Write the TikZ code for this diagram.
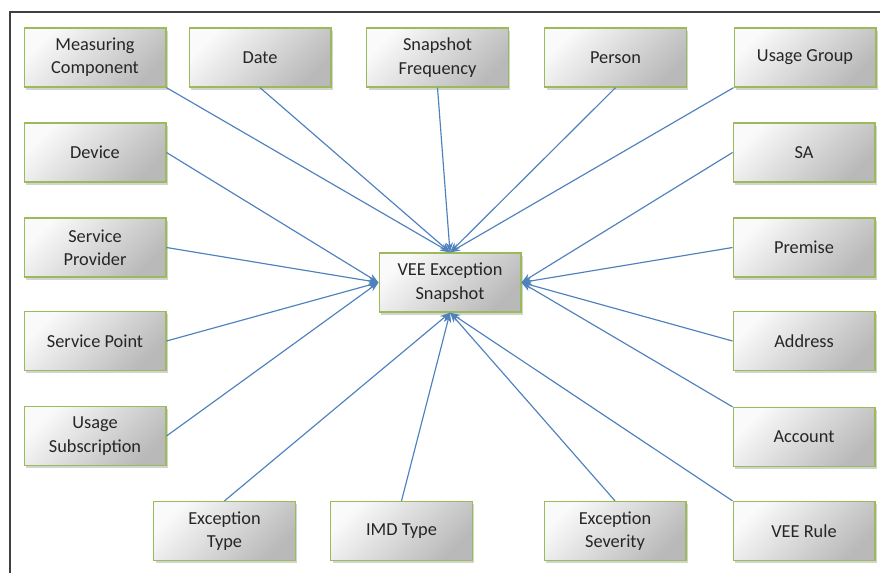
\documentclass[tikz,border=0pt]{standalone}
\usepackage{fontspec}
\setmainfont{Carlito}
\usetikzlibrary{arrows.meta, shadows}

\definecolor{boxgreen}{HTML}{9BBB59}
\definecolor{linkblue}{HTML}{4F81BD}
\definecolor{txtgray}{HTML}{262626}

\tikzset{
  entity/.style={draw=boxgreen, line width=0.8pt, top color=gray!4, bottom color=gray!55,
    shading angle=45, minimum width=85pt, minimum height=35.4pt, inner sep=0pt,
    align=center, text=txtgray, font=\fontsize{11}{14}\selectfont,
    drop shadow={shadow xshift=1.2pt, shadow yshift=-1.5pt, opacity=0.35}},
  link/.style={draw=linkblue, line width=0.7pt, -{Stealth[length=6pt, width=4.5pt]}}
}

\begin{document}
\begin{tikzpicture}[x=0.6pt, y=-0.6pt]
\useasboundingbox (0,0) rectangle (880,573);

% frame
\draw [line width=1pt, black!75] (880,12) -- (10,12) -- (10,573);

%%%  nodes

% centre node
\node [entity] (snap) at (450,282.5) {VEE Exception\\Snapshot};

% top row nodes
\node [entity] (mc) at (95,57.5) {Measuring\\Component};
\node [entity] (date) at (260,57.5) {Date};
\node [entity] (freq) at (437.5,57.5) {Snapshot\\Frequency};
\node [entity] (person) at (615.5,57.5) {Person};
\node [entity] (ugroup) at (805,57.5) {Usage Group};

% left column nodes
\node [entity] (device) at (95,152.5) {Device};
\node [entity] (sprov) at (95,247.5) {Service\\Provider};
\node [entity] (spoint) at (95,341) {Service Point};
\node [entity] (usub) at (95,436) {Usage\\Subscription};

% right column nodes
\node [entity] (sa) at (804,152.5) {SA};
\node [entity] (premise) at (804,247.5) {Premise};
\node [entity] (address) at (804,341) {Address};
\node [entity] (account) at (804,437) {Account};

% bottom row nodes
\node [entity] (etype) at (224.5,531) {Exception\\Type};
\node [entity] (imd) at (401.5,531) {IMD Type};
\node [entity] (esev) at (615,531) {Exception\\Severity};
\node [entity] (rule) at (804,531) {VEE Rule};

%%% edges

% from above
\draw [link] (mc.south east) to (snap.north);
\draw [link] (date.south) to (snap.north);
\draw [link] (freq.south) to (snap.north);
\draw [link] (person.south) to (snap.north);
\draw [link] (ugroup.south west) to (snap.north);

% from the left
\draw [link] (device.east) to (snap.west);
\draw [link] (sprov.east) to (snap.west);
\draw [link] (spoint.east) to (snap.west);
\draw [link] (usub.east) to (snap.west);

% from the right
\draw [link] (sa.west) to (snap.east);
\draw [link] (premise.west) to (snap.east);
\draw [link] (address.west) to (snap.east);
\draw [link] (account.north west) to (snap.east);

% from below
\draw [link] (etype.north) to (snap.south);
\draw [link] (imd.north) to (snap.south);
\draw [link] (esev.north) to (snap.south);
\draw [link] (rule.north west) to (snap.south);
\end{tikzpicture}
\end{document}
